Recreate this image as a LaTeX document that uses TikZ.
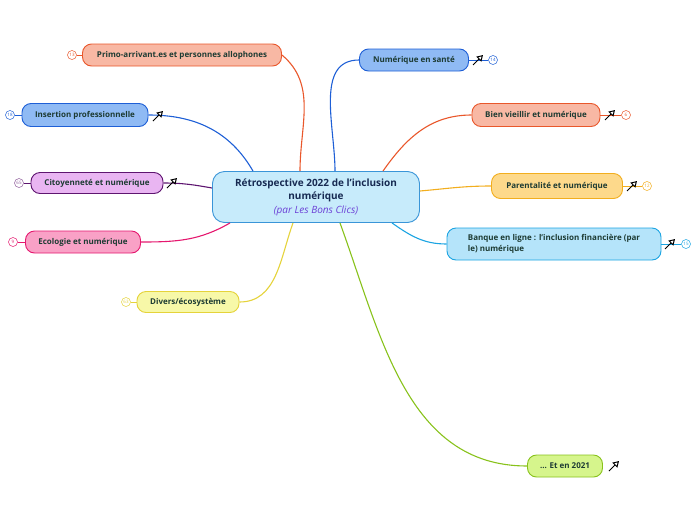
\documentclass[tikz,border=0pt]{standalone}
\usepackage{fontspec}
\setmainfont{Open Sans}
\usetikzlibrary{arrows.meta}

\definecolor{inkdark}{HTML}{1D3B33}
\definecolor{titleink}{HTML}{172A52}
\definecolor{subink}{HTML}{6B3FD6}
\definecolor{retrofill}{HTML}{C7EBFB}
\definecolor{retroline}{HTML}{3A95D8}
\definecolor{salmonfill}{HTML}{F8B8A4}
\definecolor{salmonline}{HTML}{E9572B}
\definecolor{bluefill}{HTML}{8FBAF4}
\definecolor{blueline}{HTML}{1E5FD6}
\definecolor{lilacfill}{HTML}{E9B5F2}
\definecolor{lilacline}{HTML}{5E1570}
\definecolor{pinkfill}{HTML}{F9A1C6}
\definecolor{pinkline}{HTML}{E5186F}
\definecolor{lemonfill}{HTML}{F7F8A8}
\definecolor{lemonline}{HTML}{E5D33A}
\definecolor{amberfill}{HTML}{FDD98B}
\definecolor{amberline}{HTML}{F2AE1E}
\definecolor{skyfill}{HTML}{B5E4FA}
\definecolor{skyline}{HTML}{1BA4E2}
\definecolor{limefill}{HTML}{D6F58C}
\definecolor{limeline}{HTML}{88C21B}

\tikzset{
  topic/.style 2 args={draw=#1, fill=#2, line width=0.9pt, rounded corners=9pt,
    text=inkdark, font=\fontsize{8}{10.5}\selectfont\bfseries, inner sep=2pt},
  badge/.style={circle, draw=#1, fill=white, text=#1, line width=0.5pt,
    minimum size=9pt, inner sep=0pt, font=\fontsize{4.5}{4.5}\selectfont},
  link/.style={line width=1.1pt, draw=#1},
  pics/cursor/.style={code={
    \draw[line width=0.9pt, -{Triangle[open, length=6pt, width=7pt, line width=1pt]}] (-5,5) -- (5,-5);
  }}
}

\begin{document}
\begin{tikzpicture}[x=1pt, y=-1pt]
\useasboundingbox (0,0) rectangle (696,520);

% centre
\node[draw=retroline, fill=retrofill, line width=0.9pt, rounded corners=12pt,
      minimum width=207pt, minimum height=51pt, align=center, text=titleink,
      font=\fontsize{10}{13.5}\selectfont\bfseries] (retro) at (316,197)
  {Rétrospective 2022 de l'inclusion\\numérique\\
   {\mdseries\itshape\color{subink}(par Les Bons Clics)}};

% left side
\node[topic={salmonline}{salmonfill}, minimum width=199pt, minimum height=22pt] (primo) at (182,55) {Primo-arrivant.es et personnes allophones};
\node[topic={blueline}{bluefill}, minimum width=126pt, minimum height=23pt] (insertion) at (85,115) {Insertion professionnelle};
\node[topic={lilacline}{lilacfill}, minimum width=132pt, minimum height=21pt] (citoyen) at (97,183) {Citoyenneté et numérique};
\node[topic={pinkline}{pinkfill}, minimum width=115pt, minimum height=22pt] (ecologie) at (83,242) {Ecologie et numérique};
\node[topic={lemonline}{lemonfill}, minimum width=102pt, minimum height=21pt] (divers) at (188,302) {Divers/écosystème};

% right side
\node[topic={blueline}{bluefill}, minimum width=109pt, minimum height=22pt] (sante) at (414,60) {Numérique en santé};
\node[topic={salmonline}{salmonfill}, minimum width=128pt, minimum height=23pt] (vieillir) at (536,115) {Bien vieillir et numérique};
\node[topic={amberline}{amberfill}, minimum width=131pt, minimum height=25pt] (parent) at (557,186) {Parentalité et numérique};
\node[topic={skyline}{skyfill}, minimum width=214pt, minimum height=32pt, align=left] (banque) at (554,244) {Banque en ligne : l'inclusion financière (par\\le) numérique};
\node[topic={limeline}{limefill}, minimum width=75pt, minimum height=22pt] (avant) at (565,466) {... Et en 2021};

% branches
\draw[link=salmonline] ([xshift=-16pt]retro.north) to[out=90, in=-40] (primo.east);
\draw[link=blueline] (insertion.east) to[out=0, in=120] ([xshift=-63pt]retro.north);
\draw[link=lilacline] (citoyen.east) to[out=0, in=170] ([yshift=9pt]retro.west);
\draw[link=pinkline] (ecologie.east) to[out=0, in=-150] ([xshift=-86pt]retro.south);
\draw[link=lemonline] (divers.east) to[out=0, in=-110] ([xshift=-23pt]retro.south);
\draw[link=blueline] ([xshift=19pt]retro.north) to[out=90, in=180] (sante.west);
\draw[link=salmonline] ([xshift=67pt]retro.north) to[out=55, in=180] (vieillir.west);
\draw[link=amberline] ([yshift=6pt]retro.east) to[out=5, in=180] (parent.west);
\draw[link=skyline] ([xshift=76pt]retro.south) to[out=-35, in=180] (banque.west);
\draw[link=limeline] ([xshift=24pt]retro.south) to[out=-70, in=180] (avant.west);

% counters
\node[badge=salmonline] (n13) at (72,55) {13};
\node[badge=blueline] (n18) at (10,115) {18};
\node[badge=lilacline!70] (n65) at (19,183) {65};
\node[badge=pinkline] (n9) at (13,242) {9};
\node[badge=lemonline] (n63) at (126,302) {63};
\node[badge=blueline] (n14) at (493,60) {14};
\node[badge=salmonline] (n6) at (626,115) {6};
\node[badge=amberline] (n12) at (647,186) {12};
\node[badge=skyline] (n15) at (686,244) {15};

\draw[salmonline, line width=0.9pt] (n13) -- (primo);
\draw[blueline, line width=0.9pt] (n18) -- (insertion);
\draw[lilacline, line width=0.9pt] (n65) -- (citoyen);
\draw[pinkline, line width=0.9pt] (n9) -- (ecologie);
\draw[lemonline, line width=0.9pt] (n63) -- (divers);
\draw[blueline, line width=0.9pt] (sante) -- (n14);
\draw[salmonline, line width=0.9pt] (vieillir) -- (n6);
\draw[amberline, line width=0.9pt] (parent) -- (n12);
\draw[skyline, line width=0.9pt] (banque) -- (n15);

% link icons
\pic at (158,116) {cursor};
\pic at (172,183) {cursor};
\pic at (478,60) {cursor};
\pic at (610,115) {cursor};
\pic at (632,186) {cursor};
\pic at (670,244) {cursor};
\pic at (614,466) {cursor};
\end{tikzpicture}
\end{document}
